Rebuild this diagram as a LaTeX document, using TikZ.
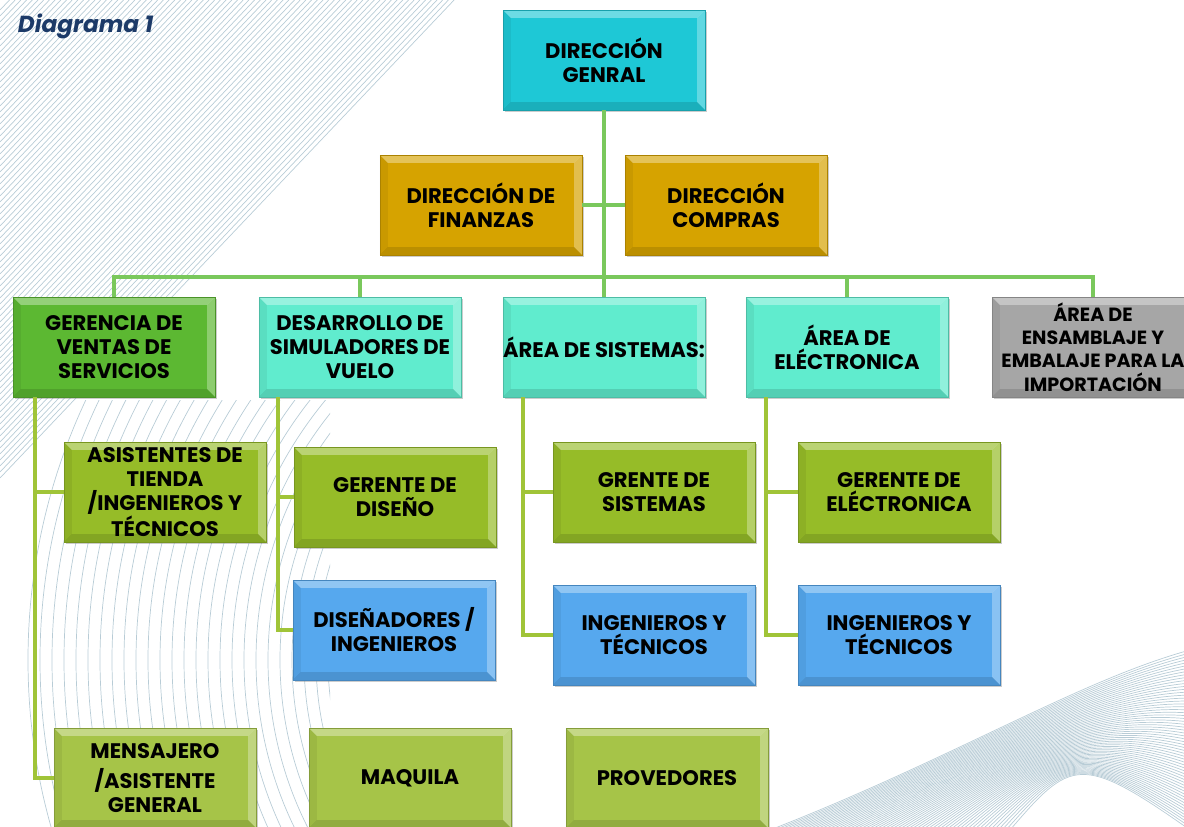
\documentclass[tikz,border=0pt]{standalone}
\usepackage{fontspec}
\setmainfont{Poppins}
\usetikzlibrary{shadows}

\definecolor{cyanbox}{RGB}{30,200,214}
\definecolor{goldbox}{RGB}{214,163,0}
\definecolor{greenbox}{RGB}{92,184,50}
\definecolor{aquabox}{RGB}{96,236,206}
\definecolor{greybox}{RGB}{166,166,166}
\definecolor{limebox}{RGB}{150,188,40}
\definecolor{palebox}{RGB}{166,196,72}
\definecolor{bluebox}{RGB}{86,168,238}
\definecolor{linktop}{RGB}{122,200,92}
\definecolor{linklow}{RGB}{160,196,56}
\definecolor{titleblue}{RGB}{28,58,104}
\definecolor{swirl}{RGB}{184,204,214}

\tikzset{
  box/.style={fill=#1, draw=#1!80!black, line width=0.3pt,
    minimum width=5.05cm, minimum height=2.5cm, inner sep=0pt,
    align=center, text=black,
    font=\bfseries\fontsize{15}{17}\selectfont,
    drop shadow={opacity=0.4, shadow xshift=1.5pt, shadow yshift=-1.5pt},
    path picture={
      % bevel: light top and right rim, darker bottom rim
      \fill[white, opacity=0.35] (path picture bounding box.north west)
        -- (path picture bounding box.north east)
        -- ([shift={(-0.2cm,-0.2cm)}]path picture bounding box.north east)
        -- ([shift={(0.2cm,-0.2cm)}]path picture bounding box.north west) -- cycle;
      \fill[white, opacity=0.3] (path picture bounding box.north east)
        -- (path picture bounding box.south east)
        -- ([shift={(-0.2cm,0.2cm)}]path picture bounding box.south east)
        -- ([shift={(-0.2cm,-0.2cm)}]path picture bounding box.north east) -- cycle;
      \fill[black, opacity=0.12] (path picture bounding box.south west)
        -- (path picture bounding box.south east)
        -- ([shift={(-0.2cm,0.2cm)}]path picture bounding box.south east)
        -- ([shift={(0.2cm,0.2cm)}]path picture bounding box.south west) -- cycle;
      \fill[black, opacity=0.06] (path picture bounding box.north west)
        -- (path picture bounding box.south west)
        -- ([shift={(0.2cm,0.2cm)}]path picture bounding box.south west)
        -- ([shift={(0.2cm,-0.2cm)}]path picture bounding box.north west) -- cycle;
    }},
  linkA/.style={draw=linktop, line width=2.6pt},
  linkB/.style={draw=linklow, line width=2.6pt},
  swirlline/.style={draw=swirl, line width=0.5pt}
}

\begin{document}
\begin{tikzpicture}[x=0.025cm, y=-0.025cm]
  \useasboundingbox (0,0) rectangle (1184,827);
  \clip (0,0) rectangle (1184,827);

  % background lines
  \foreach \k in {10,16,...,480}
    \draw[swirlline] (0,\k) -- ({0.95*\k},0);
  \begin{scope}
    \clip (0,400) rectangle (330,827);
    \foreach \r in {300,312,...,620}
      \draw[swirlline] (640,660) circle (\r);
  \end{scope}
  \foreach \i in {0,...,60}
    \draw[swirlline] ({770+\i*4},830) .. controls ({950+\i*2},760) and (1080,{680+\i*1.2}) .. (1190,{650+\i*3});

  \node[font=\bfseries\itshape\fontsize{16.5}{18}\selectfont, text=titleblue, anchor=west] (title) at (13,26) {Diagrama 1};

  % top management
  \node[box=cyanbox] (dg) at (604,60) {DIRECCIÓN\\GENRAL};
  \node[box=goldbox] (fin) at (481,205) {DIRECCIÓN DE\\FINANZAS};
  \node[box=goldbox] (com) at (726,205) {DIRECCIÓN\\COMPRAS};

  % areas
  \node[box=greenbox] (ger) at (114,347) {GERENCIA DE\\VENTAS DE\\SERVICIOS};
  \node[box=aquabox] (des) at (360,347) {DESARROLLO DE\\SIMULADORES DE\\VUELO};
  \node[box=aquabox] (sis) at (604,347) {ÁREA DE SISTEMAS:};
  \node[box=aquabox] (ele) at (847,347) {ÁREA DE\\ELÉCTRONICA};
  \node[box=greybox, font=\bfseries\fontsize{13.6}{16.5}\selectfont] (ens) at (1093,347) {ÁREA DE\\ENSAMBLAJE Y\\EMBALAJE PARA LA\\IMPORTACIÓN};

  % managers
  \node[box=limebox] (asi) at (165,492) {ASISTENTES DE\\TIENDA\\/INGENIEROS Y\\TÉCNICOS};
  \node[box=limebox] (gdi) at (395,497) {GERENTE DE\\DISEÑO};
  \node[box=limebox] (gsi) at (654,492) {GRENTE DE\\SISTEMAS};
  \node[box=limebox] (gel) at (899,492) {GERENTE DE\\ELÉCTRONICA};

  % staff
  \node[box=bluebox] (dis) at (394,630) {DISEÑADORES /\\INGENIEROS};
  \node[box=bluebox] (isi) at (654,635) {INGENIEROS Y\\TÉCNICOS};
  \node[box=bluebox] (iel) at (899,635) {INGENIEROS Y\\TÉCNICOS};

  % outside
  \node[box=palebox] (men) at (155,778) {MENSAJERO\\[5pt]/ASISTENTE\\GENERAL};
  \node[box=palebox] (maq) at (410,778) {MAQUILA};
  \node[box=palebox] (pro) at (667,778) {PROVEDORES};

  % upper links
  \coordinate (bus) at (604,277);
  \draw[linkA] (dg.south) -- (sis.north);
  \draw[linkA] (fin.east) -- (com.west);
  \draw[linkA] (ger.north) |- (bus) -| (ens.north);
  \draw[linkA] (des.north) -- (des.north |- bus);
  \draw[linkA] (ele.north) -- (ele.north |- bus);

  % lower links
  \draw[linkB] ([xshift=0.55cm]ger.south west) |- (asi.west);
  \draw[linkB] ([xshift=0.55cm]ger.south west) |- (men.west);
  \draw[linkB] ([xshift=0.48cm]des.south west) |- (gdi.west);
  \draw[linkB] ([xshift=0.48cm]des.south west) |- (dis.west);
  \draw[linkB] ([xshift=0.5cm]sis.south west) |- (gsi.west);
  \draw[linkB] ([xshift=0.5cm]sis.south west) |- (isi.west);
  \draw[linkB] ([xshift=0.5cm]ele.south west) |- (gel.west);
  \draw[linkB] ([xshift=0.5cm]ele.south west) |- (iel.west);
\end{tikzpicture}
\end{document}
